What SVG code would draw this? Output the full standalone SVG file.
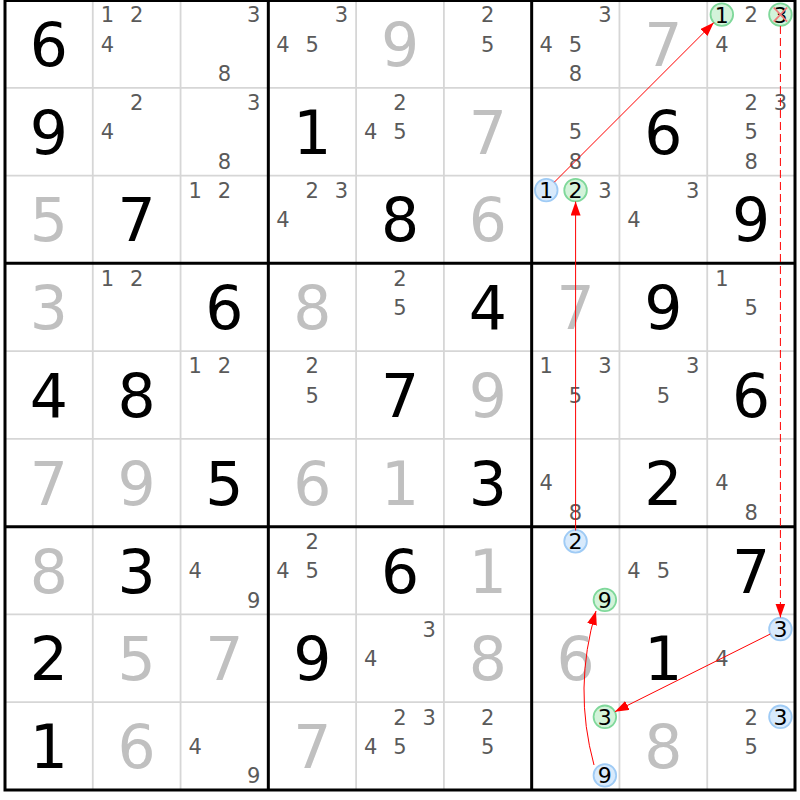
<svg xmlns="http://www.w3.org/2000/svg" width="800" height="800" viewBox="0 0 800 800">
<defs>
<style>
text{font-family:"DejaVu Sans","Verdana",sans-serif;text-anchor:middle}
.g{font-size:60px;fill:#000}
.s{font-size:60px;fill:#c0c0c0}
.c{font-size:21px;fill:#5a5a5a}
.k{font-size:22px;fill:#000}
.cb{fill:#d8eafc;stroke:#9fcbf5;stroke-width:1.8}
.cg{fill:#d3f3da;stroke:#7fd89a;stroke-width:1.8}
.thin{stroke:#d6d6d6;stroke-width:1.8}
.thick{stroke:#000;stroke-width:3}
.arr{stroke:#ff0000;stroke-width:1;fill:none}
.dash{stroke-dasharray:8 4}
.x{stroke:#f07a7a;stroke-width:1.8}
</style>
<marker id="ah" viewBox="0 0 14 10" refX="14" refY="5" markerWidth="14" markerHeight="10" markerUnits="userSpaceOnUse" orient="auto">
<path d="M0,0 L14,5 L0,10 Z" fill="#ff0000" stroke="none"/>
</marker>
</defs>
<rect x="0" y="0" width="800" height="800" fill="#fff"/>
<g id="grid">
<path class="thin" d="M92.78,0V790M180.56,0V790M356.11,0V790M443.89,0V790M619.44,0V790M707.22,0V790M5,87.78H795M5,175.56H795M5,351.11H795M5,438.89H795M5,614.44H795M5,702.22H795"/>
<path class="thick" d="M268.33,0V790M531.67,0V790M5,263.33H795M5,526.67H795"/>
<rect class="thick" x="5" y="0.5" width="790" height="789.5" fill="none"/>
</g>
<g id="cells">
<!-- row 0 -->
<g id="r0c0" transform="translate(5,0)"><text class="g" x="43.9" y="65.9">6</text></g>
<g id="r0c1" transform="translate(92.78,0)"><text class="c" x="14.6" y="22.3">1</text><text class="c" x="43.9" y="22.3">2</text><text class="c" x="14.6" y="51.6">4</text></g>
<g id="r0c2" transform="translate(180.56,0)"><text class="c" x="73.2" y="22.3">3</text><text class="c" x="43.9" y="80.9">8</text></g>
<g id="r0c3" transform="translate(268.33,0)"><text class="c" x="73.2" y="22.3">3</text><text class="c" x="14.6" y="51.6">4</text><text class="c" x="43.9" y="51.6">5</text></g>
<g id="r0c4" transform="translate(356.11,0)"><text class="s" x="43.9" y="65.9">9</text></g>
<g id="r0c5" transform="translate(443.89,0)"><text class="c" x="43.9" y="22.3">2</text><text class="c" x="43.9" y="51.6">5</text></g>
<g id="r0c6" transform="translate(531.67,0)"><text class="c" x="73.2" y="22.3">3</text><text class="c" x="14.6" y="51.6">4</text><text class="c" x="43.9" y="51.6">5</text><text class="c" x="43.9" y="80.9">8</text></g>
<g id="r0c7" transform="translate(619.44,0)"><text class="s" x="43.9" y="65.9">7</text></g>
<g id="r0c8" transform="translate(707.22,0)"><circle class="cg" cx="14.6" cy="14.6" r="11.3"/><text class="k" x="14.6" y="22.6">1</text><text class="c" x="43.9" y="22.3">2</text><circle class="cg" cx="73.2" cy="14.6" r="11.3"/><text class="k" x="73.2" y="22.6">3</text><path class="x" d="M66.5,7.5L79.9,21.7M79.9,7.5L66.5,21.7"/><text class="c" x="14.6" y="51.6">4</text></g>
<!-- row 1 -->
<g id="r1c0" transform="translate(5,87.78)"><text class="g" x="43.9" y="65.9">9</text></g>
<g id="r1c1" transform="translate(92.78,87.78)"><text class="c" x="43.9" y="22.3">2</text><text class="c" x="14.6" y="51.6">4</text></g>
<g id="r1c2" transform="translate(180.56,87.78)"><text class="c" x="73.2" y="22.3">3</text><text class="c" x="43.9" y="80.9">8</text></g>
<g id="r1c3" transform="translate(268.33,87.78)"><text class="g" x="43.9" y="65.9">1</text></g>
<g id="r1c4" transform="translate(356.11,87.78)"><text class="c" x="43.9" y="22.3">2</text><text class="c" x="14.6" y="51.6">4</text><text class="c" x="43.9" y="51.6">5</text></g>
<g id="r1c5" transform="translate(443.89,87.78)"><text class="s" x="43.9" y="65.9">7</text></g>
<g id="r1c6" transform="translate(531.67,87.78)"><text class="c" x="43.9" y="51.6">5</text><text class="c" x="43.9" y="80.9">8</text></g>
<g id="r1c7" transform="translate(619.44,87.78)"><text class="g" x="43.9" y="65.9">6</text></g>
<g id="r1c8" transform="translate(707.22,87.78)"><text class="c" x="43.9" y="22.3">2</text><text class="c" x="73.2" y="22.3">3</text><text class="c" x="43.9" y="51.6">5</text><text class="c" x="43.9" y="80.9">8</text></g>
<!-- row 2 -->
<g id="r2c0" transform="translate(5,175.56)"><text class="s" x="43.9" y="65.9">5</text></g>
<g id="r2c1" transform="translate(92.78,175.56)"><text class="g" x="43.9" y="65.9">7</text></g>
<g id="r2c2" transform="translate(180.56,175.56)"><text class="c" x="14.6" y="22.3">1</text><text class="c" x="43.9" y="22.3">2</text></g>
<g id="r2c3" transform="translate(268.33,175.56)"><text class="c" x="43.9" y="22.3">2</text><text class="c" x="73.2" y="22.3">3</text><text class="c" x="14.6" y="51.6">4</text></g>
<g id="r2c4" transform="translate(356.11,175.56)"><text class="g" x="43.9" y="65.9">8</text></g>
<g id="r2c5" transform="translate(443.89,175.56)"><text class="s" x="43.9" y="65.9">6</text></g>
<g id="r2c6" transform="translate(531.67,175.56)"><circle class="cb" cx="14.6" cy="14.6" r="11.3"/><text class="k" x="14.6" y="22.6">1</text><circle class="cg" cx="43.9" cy="14.6" r="11.3"/><text class="k" x="43.9" y="22.6">2</text><text class="c" x="73.2" y="22.3">3</text></g>
<g id="r2c7" transform="translate(619.44,175.56)"><text class="c" x="73.2" y="22.3">3</text><text class="c" x="14.6" y="51.6">4</text></g>
<g id="r2c8" transform="translate(707.22,175.56)"><text class="g" x="43.9" y="65.9">9</text></g>
<!-- row 3 -->
<g id="r3c0" transform="translate(5,263.33)"><text class="s" x="43.9" y="65.9">3</text></g>
<g id="r3c1" transform="translate(92.78,263.33)"><text class="c" x="14.6" y="22.3">1</text><text class="c" x="43.9" y="22.3">2</text></g>
<g id="r3c2" transform="translate(180.56,263.33)"><text class="g" x="43.9" y="65.9">6</text></g>
<g id="r3c3" transform="translate(268.33,263.33)"><text class="s" x="43.9" y="65.9">8</text></g>
<g id="r3c4" transform="translate(356.11,263.33)"><text class="c" x="43.9" y="22.3">2</text><text class="c" x="43.9" y="51.6">5</text></g>
<g id="r3c5" transform="translate(443.89,263.33)"><text class="g" x="43.9" y="65.9">4</text></g>
<g id="r3c6" transform="translate(531.67,263.33)"><text class="s" x="43.9" y="65.9">7</text></g>
<g id="r3c7" transform="translate(619.44,263.33)"><text class="g" x="43.9" y="65.9">9</text></g>
<g id="r3c8" transform="translate(707.22,263.33)"><text class="c" x="14.6" y="22.3">1</text><text class="c" x="43.9" y="51.6">5</text></g>
<!-- row 4 -->
<g id="r4c0" transform="translate(5,351.11)"><text class="g" x="43.9" y="65.9">4</text></g>
<g id="r4c1" transform="translate(92.78,351.11)"><text class="g" x="43.9" y="65.9">8</text></g>
<g id="r4c2" transform="translate(180.56,351.11)"><text class="c" x="14.6" y="22.3">1</text><text class="c" x="43.9" y="22.3">2</text></g>
<g id="r4c3" transform="translate(268.33,351.11)"><text class="c" x="43.9" y="22.3">2</text><text class="c" x="43.9" y="51.6">5</text></g>
<g id="r4c4" transform="translate(356.11,351.11)"><text class="g" x="43.9" y="65.9">7</text></g>
<g id="r4c5" transform="translate(443.89,351.11)"><text class="s" x="43.9" y="65.9">9</text></g>
<g id="r4c6" transform="translate(531.67,351.11)"><text class="c" x="14.6" y="22.3">1</text><text class="c" x="73.2" y="22.3">3</text><text class="c" x="43.9" y="51.6">5</text></g>
<g id="r4c7" transform="translate(619.44,351.11)"><text class="c" x="73.2" y="22.3">3</text><text class="c" x="43.9" y="51.6">5</text></g>
<g id="r4c8" transform="translate(707.22,351.11)"><text class="g" x="43.9" y="65.9">6</text></g>
<!-- row 5 -->
<g id="r5c0" transform="translate(5,438.89)"><text class="s" x="43.9" y="65.9">7</text></g>
<g id="r5c1" transform="translate(92.78,438.89)"><text class="s" x="43.9" y="65.9">9</text></g>
<g id="r5c2" transform="translate(180.56,438.89)"><text class="g" x="43.9" y="65.9">5</text></g>
<g id="r5c3" transform="translate(268.33,438.89)"><text class="s" x="43.9" y="65.9">6</text></g>
<g id="r5c4" transform="translate(356.11,438.89)"><text class="s" x="43.9" y="65.9">1</text></g>
<g id="r5c5" transform="translate(443.89,438.89)"><text class="g" x="43.9" y="65.9">3</text></g>
<g id="r5c6" transform="translate(531.67,438.89)"><text class="c" x="14.6" y="51.6">4</text><text class="c" x="43.9" y="80.9">8</text></g>
<g id="r5c7" transform="translate(619.44,438.89)"><text class="g" x="43.9" y="65.9">2</text></g>
<g id="r5c8" transform="translate(707.22,438.89)"><text class="c" x="14.6" y="51.6">4</text><text class="c" x="43.9" y="80.9">8</text></g>
<!-- row 6 -->
<g id="r6c0" transform="translate(5,526.67)"><text class="s" x="43.9" y="65.9">8</text></g>
<g id="r6c1" transform="translate(92.78,526.67)"><text class="g" x="43.9" y="65.9">3</text></g>
<g id="r6c2" transform="translate(180.56,526.67)"><text class="c" x="14.6" y="51.6">4</text><text class="c" x="73.2" y="80.9">9</text></g>
<g id="r6c3" transform="translate(268.33,526.67)"><text class="c" x="43.9" y="22.3">2</text><text class="c" x="14.6" y="51.6">4</text><text class="c" x="43.9" y="51.6">5</text></g>
<g id="r6c4" transform="translate(356.11,526.67)"><text class="g" x="43.9" y="65.9">6</text></g>
<g id="r6c5" transform="translate(443.89,526.67)"><text class="s" x="43.9" y="65.9">1</text></g>
<g id="r6c6" transform="translate(531.67,526.67)"><circle class="cb" cx="43.9" cy="14.6" r="11.3"/><text class="k" x="43.9" y="22.6">2</text><circle class="cg" cx="73.2" cy="73.2" r="11.3"/><text class="k" x="73.2" y="81.2">9</text></g>
<g id="r6c7" transform="translate(619.44,526.67)"><text class="c" x="14.6" y="51.6">4</text><text class="c" x="43.9" y="51.6">5</text></g>
<g id="r6c8" transform="translate(707.22,526.67)"><text class="g" x="43.9" y="65.9">7</text></g>
<!-- row 7 -->
<g id="r7c0" transform="translate(5,614.44)"><text class="g" x="43.9" y="65.9">2</text></g>
<g id="r7c1" transform="translate(92.78,614.44)"><text class="s" x="43.9" y="65.9">5</text></g>
<g id="r7c2" transform="translate(180.56,614.44)"><text class="s" x="43.9" y="65.9">7</text></g>
<g id="r7c3" transform="translate(268.33,614.44)"><text class="g" x="43.9" y="65.9">9</text></g>
<g id="r7c4" transform="translate(356.11,614.44)"><text class="c" x="73.2" y="22.3">3</text><text class="c" x="14.6" y="51.6">4</text></g>
<g id="r7c5" transform="translate(443.89,614.44)"><text class="s" x="43.9" y="65.9">8</text></g>
<g id="r7c6" transform="translate(531.67,614.44)"><text class="s" x="43.9" y="65.9">6</text></g>
<g id="r7c7" transform="translate(619.44,614.44)"><text class="g" x="43.9" y="65.9">1</text></g>
<g id="r7c8" transform="translate(707.22,614.44)"><circle class="cb" cx="73.2" cy="14.6" r="11.3"/><text class="k" x="73.2" y="22.6">3</text><text class="c" x="14.6" y="51.6">4</text></g>
<!-- row 8 -->
<g id="r8c0" transform="translate(5,702.22)"><text class="g" x="43.9" y="65.9">1</text></g>
<g id="r8c1" transform="translate(92.78,702.22)"><text class="s" x="43.9" y="65.9">6</text></g>
<g id="r8c2" transform="translate(180.56,702.22)"><text class="c" x="14.6" y="51.6">4</text><text class="c" x="73.2" y="80.9">9</text></g>
<g id="r8c3" transform="translate(268.33,702.22)"><text class="s" x="43.9" y="65.9">7</text></g>
<g id="r8c4" transform="translate(356.11,702.22)"><text class="c" x="43.9" y="22.3">2</text><text class="c" x="73.2" y="22.3">3</text><text class="c" x="14.6" y="51.6">4</text><text class="c" x="43.9" y="51.6">5</text></g>
<g id="r8c5" transform="translate(443.89,702.22)"><text class="c" x="43.9" y="22.3">2</text><text class="c" x="43.9" y="51.6">5</text></g>
<g id="r8c6" transform="translate(531.67,702.22)"><circle class="cg" cx="73.2" cy="14.6" r="11.3"/><text class="k" x="73.2" y="22.6">3</text><circle class="cb" cx="73.2" cy="73.2" r="11.3"/><text class="k" x="73.2" y="81.2">9</text></g>
<g id="r8c7" transform="translate(619.44,702.22)"><text class="s" x="43.9" y="65.9">8</text></g>
<g id="r8c8" transform="translate(707.22,702.22)"><text class="c" x="43.9" y="22.3">2</text><circle class="cb" cx="73.2" cy="14.6" r="11.3"/><text class="k" x="73.2" y="22.6">3</text><text class="c" x="43.9" y="51.6">5</text></g>
</g>
<g id="connectors">
<path class="arr" d="M554.3,182.2L713.8,22.6" marker-end="url(#ah)"/>
<path class="arr" d="M575.6,530.5V201.5" marker-end="url(#ah)"/>
<path class="arr dash" d="M780.4,26V617.5" marker-end="url(#ah)"/>
<path class="arr" d="M770.3,634L614.9,711.7" marker-end="url(#ah)"/>
<path class="arr" d="M594,765Q573,688 596,611" marker-end="url(#ah)"/>
</g>
</svg>
